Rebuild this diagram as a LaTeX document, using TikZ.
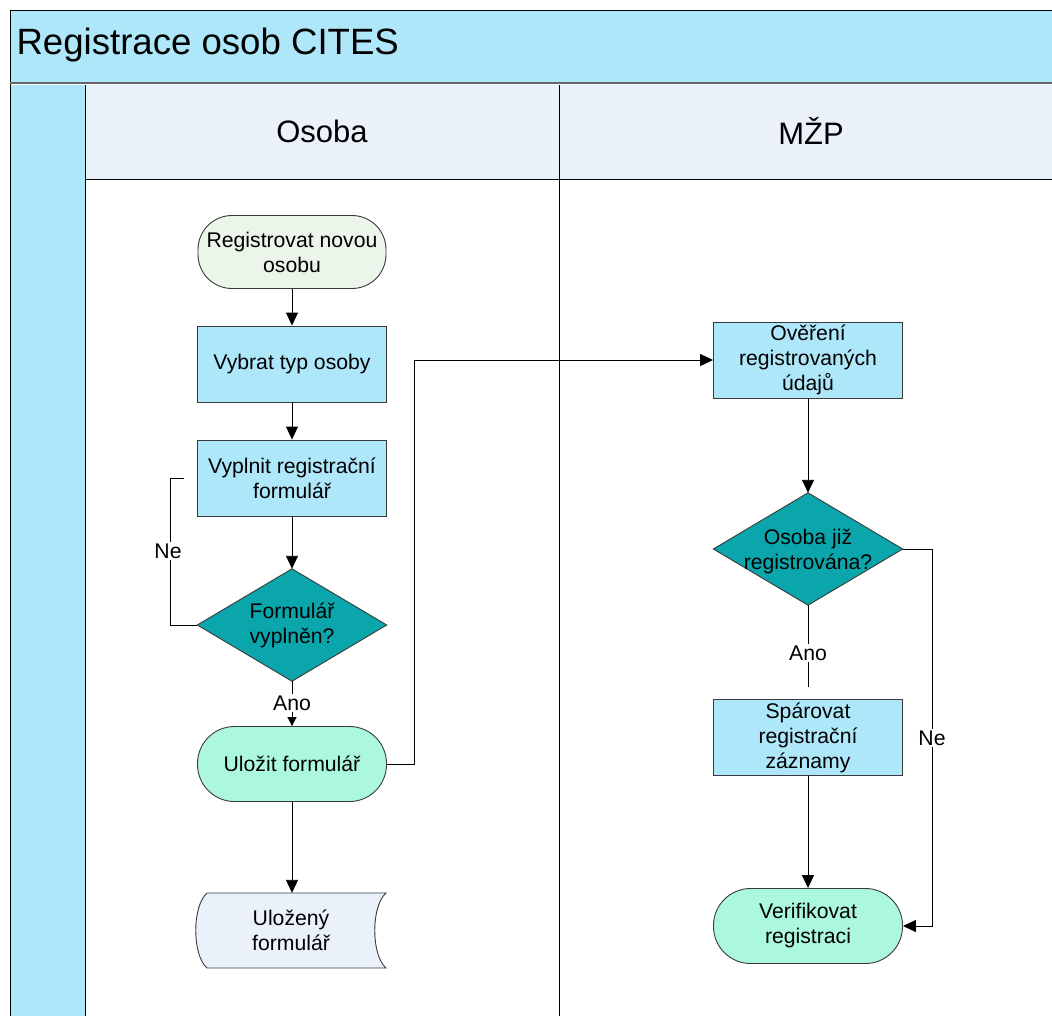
\documentclass[tikz,border=0pt]{standalone}
\usepackage{fontspec}
\setmainfont{Liberation Sans}
\usetikzlibrary{arrows.meta,calc}
\definecolor{lblue}{HTML}{AEE7FA}
\definecolor{hdr}{HTML}{EAF1FA}
\definecolor{startc}{HTML}{EBF5E9}
\definecolor{teal}{HTML}{0BA6AB}
\definecolor{mint}{HTML}{ABF7DF}
\definecolor{edge}{HTML}{3A3A3A}
\tikzset{
  txt/.style={font=\fontsize{21.2}{25}\selectfont, align=center, text=black},
  procbox/.style={txt, draw=edge, line width=0.9pt, fill=lblue, minimum width=189pt, minimum height=76pt, inner sep=0pt},
  termbox/.style={txt, draw=edge, line width=0.9pt, fill=mint, minimum width=189pt, minimum height=75pt, rounded corners=37pt, inner sep=0pt},
  startbox/.style={txt, draw=edge, line width=0.9pt, fill=startc, minimum width=188pt, minimum height=73pt, rounded corners=34pt, inner sep=0pt},
  diabox/.style={minimum width=189pt, minimum height=112pt, inner sep=0pt, draw=none},
  diashape/.style={draw=edge, line width=0.9pt, fill=teal},
  conn/.style={draw=black, line width=0.9pt},
  arr/.style={conn, -{Triangle[length=13pt,width=12pt]}},
  smallarr/.style={conn, -{Triangle[length=9pt,width=9pt]}},
  lbl/.style={txt, fill=white, inner sep=2pt},
  lanetext/.style={font=\fontsize{31}{36}\selectfont},
}
\begin{document}
\begin{tikzpicture}[x=1pt,y=-1pt]
\useasboundingbox (0,0) rectangle (1052,1015);
\clip (0,0) rectangle (1052,1015);
\fill[white] (0,0) rectangle (1052,1015);
% title bar
\fill[lblue] (10,10) rectangle (1060,83);
\draw[black, line width=1pt] (10,1030) -- (10,10) -- (1060,10);
\draw[gray!80!black, line width=2.5pt] (10,83) -- (1060,83);
\node[anchor=west, font=\fontsize{36.6}{42}\selectfont] (title) at (13,45) {Registrace osob CITES};
% left strip
\fill[lblue] (10,84.5) rectangle (85,1020);
\draw[black, line width=1pt] (10,84) -- (10,1020);
% header
\fill[hdr] (85,85) rectangle (1060,179);
\draw[black, line width=0.9pt] (85,85) -- (85,1020);
\draw[black, line width=0.9pt] (559,85) -- (559,1020);
\draw[black, line width=0.9pt] (85,179) -- (1060,179);
\node[lanetext] (lane1) at (322,131) {Osoba};
\node[lanetext] (lane2) at (811,131) {MŽP};

% Osoba lane nodes
\node[startbox] (start) at (292,252) {Registrovat novou\\osobu};
\node[procbox] (typ) at (292,364) {Vybrat typ osoby};
\node[procbox] (vypl) at (292,478) {Vyplnit registrační\\formulář};
\node[diabox] (d1) at (292,625) {};
\path[diashape] (d1.north) -- (d1.east) -- (d1.south) -- (d1.west) -- cycle;
\node[txt] (d1t) at (292,625) {Formulář\\vyplněn?};
\node[termbox] (uloz) at (292,764) {Uložit formulář};
\node[diabox, minimum height=75pt] (sto) at (292,930.5) {};
\path[draw=edge, line width=0.9pt, fill=hdr] (207,893) -- (386,893)
  .. controls (371,906) and (371,955) .. (386,968) -- (207,968)
  .. controls (192,955) and (192,906) .. (207,893) -- cycle;
\node[txt] (stot) at (291,930.5) {Uložený\\formulář};

% MZP lane nodes
\node[procbox] (over) at (808,360) {Ověření\\registrovaných\\údajů};
\node[diabox] (d2) at (808,549) {};
\path[diashape] (d2.north) -- (d2.east) -- (d2.south) -- (d2.west) -- cycle;
\node[txt] (d2t) at (808,551) {Osoba již\\registrována?};
\node[procbox] (spar) at (808,737.5) {Spárovat\\registrační\\záznamy};
\node[termbox] (verif) at (808,926) {Verifikovat\\registraci};

% connectors
\draw[arr] (start) -- (typ);
\draw[arr] (typ) -- (vypl);
\draw[arr] (vypl) -- (d1.north);
\coordinate (neL) at (170,625);
\draw[conn, shorten >=13pt] (d1.west) -- (neL) |- (vypl.west);
\node[lbl] (ne1) at (168,551) {Ne};
\draw[smallarr] (d1.south) -- (uloz.north);
\node[lbl] (ano1) at (292,703) {Ano};
\coordinate (bendX) at (414,764);
\draw[arr] (uloz.east) -- (bendX) |- (over.west);
\draw[arr] (uloz.south) -- (sto.north);
\draw[arr] (over.south) -- (d2.north);
\draw[conn, shorten >=12pt] (d2.south) -- (spar.north);
\node[lbl] (ano2) at (808,653) {Ano};
\draw[arr] (spar.south) -- (verif.north);
\coordinate (neR) at (932,549);
\draw[arr] (d2.east) -- (neR) |- (verif.east);
\node[lbl] (ne2) at (932,738) {Ne};
\end{tikzpicture}
\end{document}
